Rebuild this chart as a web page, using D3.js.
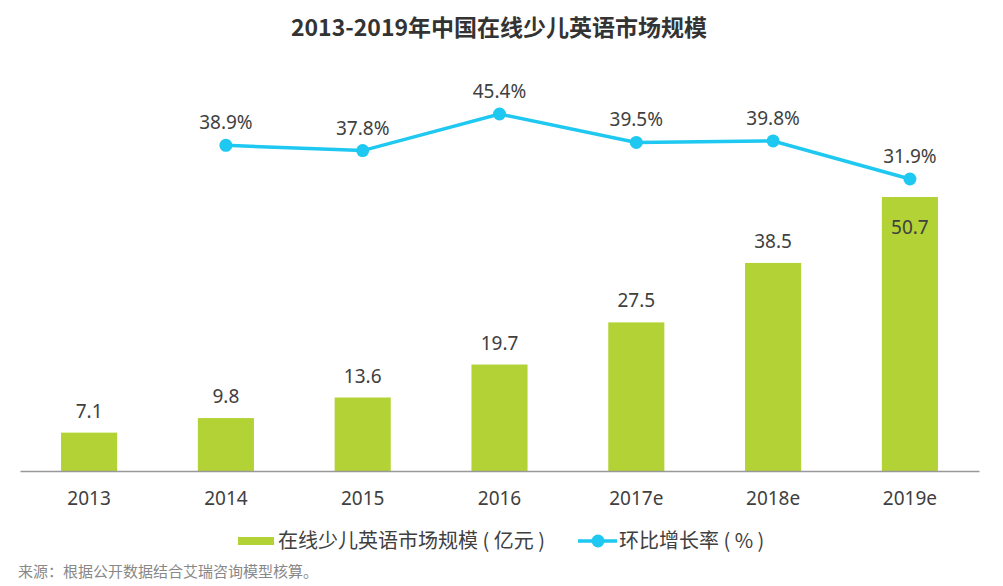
<!DOCTYPE html>
<html><head><meta charset="utf-8">
<script src="https://cdn.jsdelivr.net/npm/d3@7"></script>
<style>body{margin:0;background:#fff;} svg{display:block;font-family:"Noto Sans","Noto Sans CJK SC",sans-serif;}</style>
</head><body>
<svg id="c" width="1003" height="586"></svg>
<script>
const categories = ["2013","2014","2015","2016","2017e","2018e","2019e"];
const marketSize = [7.1, 9.8, 13.6, 19.7, 27.5, 38.5, 50.7];
const growthYears = ["2014","2015","2016","2017e","2018e","2019e"];
const growthRate = [38.9, 37.8, 45.4, 39.5, 39.8, 31.9];
const title = "2013-2019年中国在线少儿英语市场规模";
const legendBar = "在线少儿英语市场规模 ( 亿元 )";
const legendLine = "环比增长率 ( % )";
const source = "来源：根据公开数据结合艾瑞咨询模型核算。";

const svg = d3.select("#c");
const green = "#b3d235", blue = "#1ec8f0", txt = "#404040";
const baseY = 471;
const x = d3.scaleBand().domain(categories).range([20, 979]).paddingInner(0.59).paddingOuter(0.3);
const y = d3.scaleLinear().domain([0, 50.7]).range([baseY, 197]);
const y2 = d3.scaleLinear().domain([31.9, 45.4]).range([179, 114]);

svg.append("text").attr("x", 499).attr("y", 36).attr("text-anchor","middle")
  .attr("font-size", 23).attr("font-weight","bold").attr("fill", "#333")
  .attr("font-family",'"Noto Sans CJK SC",sans-serif').text(title);

svg.selectAll("rect.bar").data(marketSize).join("rect").attr("class","bar")
  .attr("x",(d,i)=>x(categories[i])).attr("width",x.bandwidth())
  .attr("y",d=>y(d)).attr("height",d=>baseY-y(d)).attr("fill",green);

svg.selectAll("text.bl").data(marketSize).join("text").attr("class","bl")
  .attr("x",(d,i)=>x(categories[i])+x.bandwidth()/2)
  .attr("y",(d,i)=> i===marketSize.length-1 ? y(d)+37 : y(d)-15)
  .attr("text-anchor","middle").attr("font-size",19).attr("fill",txt).text(d=>d.toFixed(1));

// axis
const ax = svg.append("g").attr("transform",`translate(0,${baseY})`).call(d3.axisBottom(x).tickSize(0).tickPadding(21));
ax.select(".domain").attr("stroke","#999").attr("stroke-width",1.5);
ax.selectAll("text").attr("font-size",19).attr("fill",txt).attr("font-family",'"Noto Sans",sans-serif');

const cx = d => x(d)+x.bandwidth()/2;
const line = d3.line().x((d,i)=>cx(growthYears[i])).y(d=>y2(d));
svg.append("path").datum(growthRate).attr("d",line).attr("fill","none").attr("stroke",blue).attr("stroke-width",3.5);
svg.selectAll("circle.pt").data(growthRate).join("circle").attr("class","pt")
  .attr("cx",(d,i)=>cx(growthYears[i])).attr("cy",d=>y2(d)).attr("r",6.5).attr("fill",blue);
svg.selectAll("text.ll").data(growthRate).join("text").attr("class","ll")
  .attr("x",(d,i)=>cx(growthYears[i])).attr("y",d=>y2(d)-16)
  .attr("text-anchor","middle").attr("font-size",19).attr("fill",txt).text(d=>d.toFixed(1)+"%");

// legend
const lg = svg.append("g").attr("font-family",'"Noto Sans CJK SC",sans-serif');
lg.append("rect").attr("x",238).attr("y",537).attr("width",36).attr("height",8).attr("fill",green);
lg.append("text").attr("x",278).attr("y",548).attr("font-size",20).attr("fill",txt).text(legendBar);
lg.append("line").attr("x1",578).attr("x2",617).attr("y1",541).attr("y2",541).attr("stroke",blue).attr("stroke-width",3.5);
lg.append("circle").attr("cx",598).attr("cy",541).attr("r",6.5).attr("fill",blue);
lg.append("text").attr("x",619).attr("y",548).attr("font-size",20).attr("fill",txt).text(legendLine);

svg.append("text").attr("x",18).attr("y",577).attr("font-size",15).attr("fill","#888")
  .attr("font-family",'"Noto Sans CJK SC",sans-serif').text(source);
</script>
</body></html>
